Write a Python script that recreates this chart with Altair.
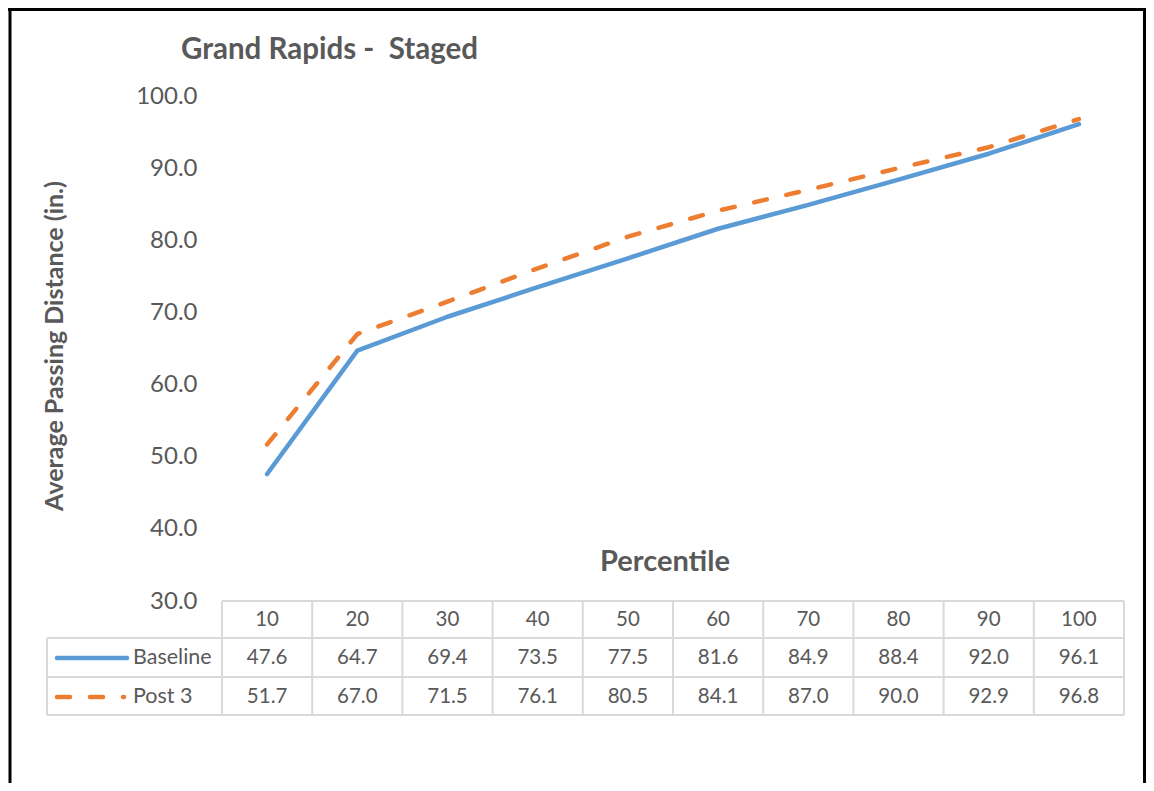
import altair as alt
import pandas as pd

# ---- data ----
percentiles = ["10", "20", "30", "40", "50", "60", "70", "80", "90", "100"]
baseline = [47.6, 64.7, 69.4, 73.5, 77.5, 81.6, 84.9, 88.4, 92.0, 96.1]
post3 = [51.7, 67.0, 71.5, 76.1, 80.5, 84.1, 87.0, 90.0, 92.9, 96.8]
y_ticks = [30, 40, 50, 60, 70, 80, 90, 100]
series_names = ["Baseline", "Post 3"]
chart_title = "Grand Rapids - \u00a0Staged"
y_title = "Average Passing Distance (in.)"
x_title = "Percentile"

df = pd.DataFrame({
    "pct": percentiles * 2,
    "series": [series_names[0]] * len(percentiles) + [series_names[1]] * len(percentiles),
    "value": baseline + post3,
})
one = pd.DataFrame({"k": [0]})

# ---- layout constants (pixels, relative to plot origin) ----
W, H = 902, 505
FONT = "Lato"
TXT = "#595959"
GRID = "#d9d9d9"
BLUE = "#5B9BD5"
ORANGE = "#ED7D31"
DASH = [13, 20]
ROW_HDR, ROW_B, ROW_P = 524, 562, 601
LEFT_COL = -175
col_w = W / len(percentiles)

x_enc = alt.X("pct:O", sort=percentiles, axis=None,
              scale=alt.Scale(type="point", padding=0.5, domain=percentiles))
y_enc = alt.Y("value:Q", scale=alt.Scale(domain=[30, 100], nice=False, zero=False),
              axis=alt.Axis(values=y_ticks, format=".1f", labelFontSize=24, labelFont=FONT,
                            labelColor=TXT, labelPadding=25, ticks=False, domain=False,
                            grid=False, title=None))

base = alt.Chart(df)

blue_line = base.transform_filter(alt.datum.series == series_names[0]).mark_line(
    color=BLUE, strokeWidth=4.5, strokeCap="round", strokeJoin="round"
).encode(x=x_enc, y=y_enc)

orange_line = base.transform_filter(alt.datum.series == series_names[1]).mark_line(
    color=ORANGE, strokeWidth=4.5, strokeDash=DASH, strokeCap="round", strokeJoin="round"
).encode(x=x_enc, y=y_enc)

layers = [blue_line, orange_line]

# table text
hdr = alt.Chart(pd.DataFrame({"pct": percentiles})).mark_text(
    font=FONT, fontSize=20.5, color=TXT, baseline="middle", align="center"
).encode(x=alt.X("pct:O", sort=percentiles), y=alt.value(ROW_HDR), text="pct:N")
layers.append(hdr)

for name, row in zip(series_names, [ROW_B, ROW_P]):
    t = base.transform_filter(alt.datum.series == name).mark_text(
        font=FONT, fontSize=20.5, color=TXT, baseline="middle", align="center"
    ).encode(x=alt.X("pct:O", sort=percentiles), y=alt.value(row),
             text=alt.Text("value:Q", format=".1f"))
    layers.append(t)
    layers.append(alt.Chart(one).mark_text(
        text=name, font=FONT, fontSize=21.5, color=TXT, baseline="middle", align="left"
    ).encode(x=alt.value(-89), y=alt.value(row)))

# legend keys
layers.append(alt.Chart(one).mark_rule(color=BLUE, strokeWidth=4.5, strokeCap="round").encode(
    x=alt.value(-165), x2=alt.value(-95), y=alt.value(ROW_B)))
layers.append(alt.Chart(one).mark_rule(color=ORANGE, strokeWidth=4.5, strokeCap="round",
                                      strokeDash=DASH).encode(
    x=alt.value(-165), x2=alt.value(-98), y=alt.value(ROW_P)))

# table grid
def rule(x1, x2, y1, y2, color=GRID, w=2):
    return alt.Chart(one).mark_rule(color=color, strokeWidth=w).encode(
        x=alt.value(x1), x2=alt.value(x2), y=alt.value(y1), y2=alt.value(y2))

layers.append(rule(0, W, H, H))
for yy in [542, 581, 619]:
    layers.append(rule(LEFT_COL, W, yy, yy))
for i in range(len(percentiles) + 1):
    xx = i * col_w
    layers.append(rule(xx, xx, H, 619))
layers.append(rule(LEFT_COL, LEFT_COL, 542, 619))

# titles
layers.append(alt.Chart(one).mark_text(
    text=chart_title, font=FONT, fontSize=29.5, fontWeight="bold", color=TXT,
    align="left", baseline="middle").encode(x=alt.value(-41), y=alt.value(-46)))
layers.append(alt.Chart(one).mark_text(
    text=y_title, font=FONT, fontSize=25, fontWeight="bold", color=TXT,
    align="center", baseline="middle", angle=270).encode(x=alt.value(-167), y=alt.value(250)))
layers.append(alt.Chart(one).mark_text(
    text=x_title, font=FONT, fontSize=29, fontWeight="bold", color=TXT,
    align="center", baseline="middle").encode(x=alt.value(443), y=alt.value(466)))

# outer frame (left, top, right)
layers.append(rule(-212, -212, -88, 700, color="black", w=3))
layers.append(rule(-214, 924, -86.5, -86.5, color="black", w=3))
layers.append(rule(922.5, 922.5, -88, 700, color="black", w=3))

chart = alt.layer(*layers).properties(
    width=W, height=H,
    autosize=alt.AutoSizeParams(type="none"),
    padding={"left": 214, "top": 88, "right": 22, "bottom": 182},
    background="white",
).configure_view(stroke=None)

chart.save("out.html", embed_options={"renderer": "svg", "actions": False})
